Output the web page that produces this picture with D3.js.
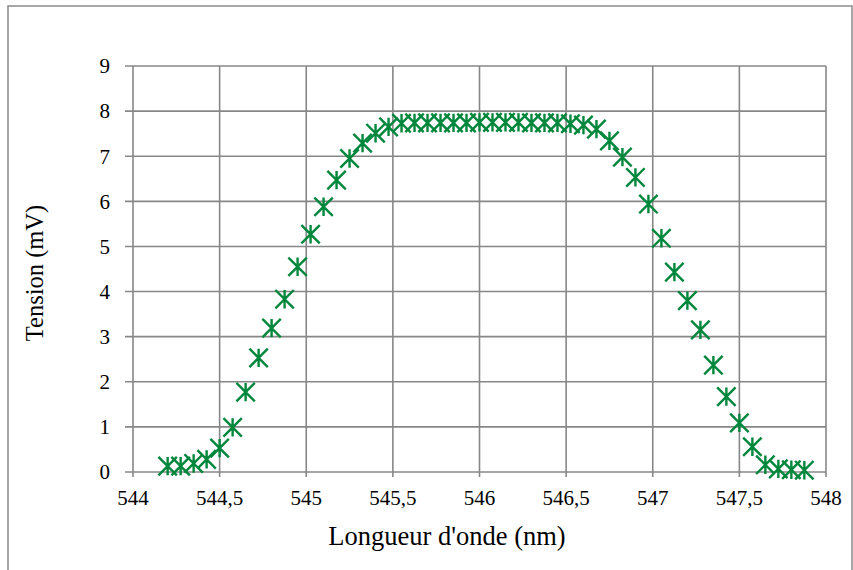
<!DOCTYPE html>
<html><head><meta charset="utf-8">
<script src="https://cdn.jsdelivr.net/npm/d3@7"></script>
<style>html,body{margin:0;padding:0;background:#fff;}svg{display:block;}
text{font-family:"Liberation Serif","Times New Roman","DejaVu Serif",serif;fill:#000;}</style>
</head><body>
<script>
const wavelengths = [544.2,544.275,544.35,544.425,544.5,544.575,544.65,544.725,544.8,544.875,
  544.95,545.025,545.1,545.175,545.25,545.325,545.4,545.475,545.55,545.625,
  545.7,545.775,545.85,545.925,546,546.075,546.15,546.225,546.3,546.375,
  546.45,546.525,546.6,546.675,546.75,546.825,546.9,546.975,547.05,547.125,
  547.2,547.275,547.35,547.425,547.5,547.575,547.65,547.725,547.8,547.875];
const tension = [0.13,0.13,0.19,0.28,0.53,0.99,1.77,2.53,3.19,3.83,
  4.55,5.27,5.88,6.47,6.95,7.29,7.51,7.65,7.73,7.74,
  7.74,7.74,7.74,7.74,7.75,7.75,7.75,7.75,7.74,7.74,
  7.74,7.72,7.69,7.60,7.34,6.98,6.53,5.94,5.18,4.43,
  3.80,3.15,2.37,1.67,1.09,0.56,0.16,0.07,0.05,0.04];
const xTicks = [544,544.5,545,545.5,546,546.5,547,547.5,548];
const yTicks = [0,1,2,3,4,5,6,7,8,9];
const xTitle = "Longueur d'onde (nm)";
const yTitle = "Tension (mV)";

const W = 853, H = 570;
const svg = d3.select("body").append("svg").attr("width", W).attr("height", H);
svg.append("rect").attr("x", 8).attr("y", 6).attr("width", 844).attr("height", 580)
  .attr("fill", "#fff").attr("stroke", "#8a8a8a").attr("stroke-width", 1.5);

const L = 133, R = 826, T = 66, B = 472;
const x = d3.scaleLinear().domain([544, 548]).range([L, R]);
const y = d3.scaleLinear().domain([0, 9]).range([B, T]);
const grid = "#878787";
const fmt = d => String(d).replace(".", ",");

svg.append("g").selectAll("line").data(yTicks).join("line")
  .attr("x1", L - 8).attr("x2", R).attr("y1", d => y(d)).attr("y2", d => y(d))
  .attr("stroke", grid).attr("stroke-width", 1.6);
svg.append("g").selectAll("line").data(xTicks).join("line")
  .attr("x1", d => x(d)).attr("x2", d => x(d)).attr("y1", T).attr("y2", B + 5)
  .attr("stroke", grid).attr("stroke-width", 1.6);

svg.append("g").selectAll("text").data(yTicks).join("text")
  .attr("x", 110).attr("y", d => y(d)).attr("dy", "0.35em")
  .attr("text-anchor", "end").attr("font-size", 21).text(d => d);
svg.append("g").selectAll("text").data(xTicks).join("text")
  .attr("x", d => x(d)).attr("y", 505)
  .attr("text-anchor", "middle").attr("font-size", 21).text(fmt);

svg.append("text").attr("x", 447).attr("y", 545).attr("text-anchor", "middle")
  .attr("font-size", 26.5).text(xTitle);
svg.append("text").attr("transform", "translate(43,273) rotate(-90)").attr("text-anchor", "middle")
  .attr("font-size", 24.5).text(yTitle);

const s = 9.2;
const color = "#00873c";
const pts = wavelengths.map((w, i) => [w, tension[i]]);
const g = svg.append("g").attr("stroke", color).attr("stroke-width", 2.4).attr("fill", "none");
g.selectAll("path").data(pts).join("path")
  .attr("d", d => {
    const cx = x(d[0]), cy = y(d[1]);
    return `M${cx - s},${cy - s}L${cx + s},${cy + s}M${cx - s},${cy + s}L${cx + s},${cy - s}M${cx},${cy - s}L${cx},${cy + s}`;
  });
</script>
</body></html>
